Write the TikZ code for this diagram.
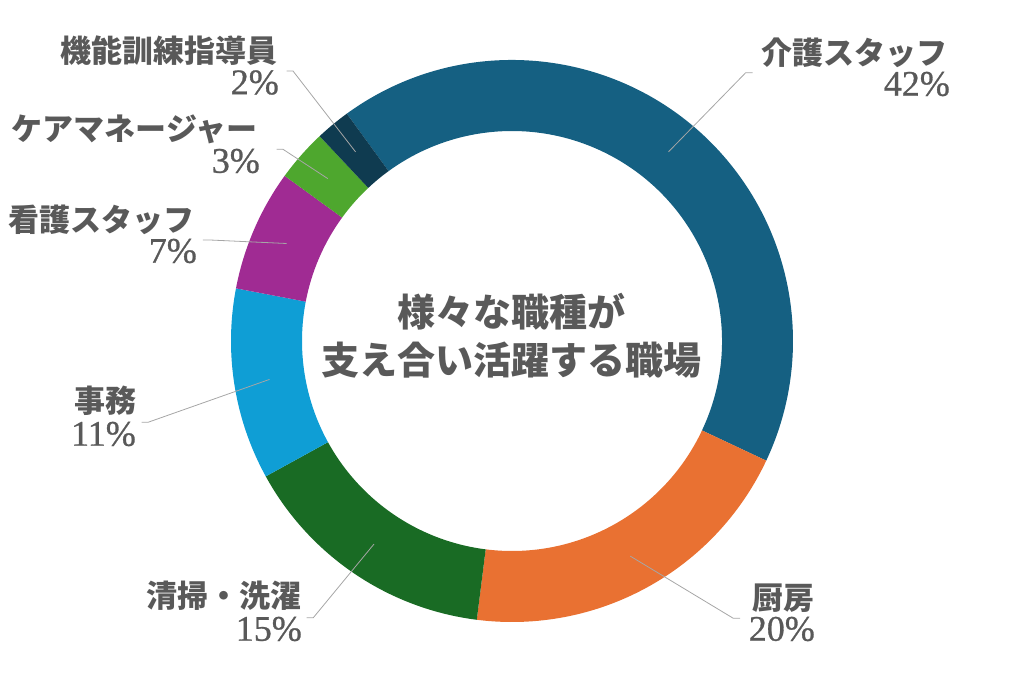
\documentclass[tikz,border=0pt]{standalone}
\usepackage{fontspec}
\newfontfamily\jpfont{Noto Sans CJK JP}
\newfontfamily\numfont{Liberation Serif}[FakeBold=0.8]
\definecolor{txtgray}{HTML}{595959}
\definecolor{leadgray}{HTML}{A6A6A6}
\definecolor{kaigoc}{HTML}{156082}
\definecolor{chuboc}{HTML}{E97132}
\definecolor{seisoc}{HTML}{196B24}
\definecolor{jimuc}{HTML}{0F9ED5}
\definecolor{kangoc}{HTML}{A02B93}
\definecolor{caremanec}{HTML}{4EA72E}
\definecolor{kinouc}{HTML}{0F3B50}
\tikzset{
  lbl/.style={anchor=east, inner sep=0pt, text=txtgray, font=\jpfont\bfseries\fontsize{31}{31}\selectfont},
  pct/.style={anchor=east, inner sep=0pt, text=txtgray, font=\numfont\fontsize{36}{36}\selectfont},
  ctr/.style={align=center, inner sep=0pt, text=txtgray, font=\jpfont\bfseries\fontsize{38}{48}\selectfont},
  leader/.style={draw=leadgray, line width=0.8pt},
}
\begin{document}
\begin{tikzpicture}[x=1pt,y=1pt]
\useasboundingbox (-512,-341) rectangle (512,341);
\foreach \a/\b/\c in {126/-25.2/kaigoc, -25.2/-97.2/chuboc, -97.2/-151.2/seisoc, -151.2/-190.8/jimuc,
  -190.8/-216/kangoc, -216/-226.8/caremanec, -226.8/-234/kinouc}
  \fill[\c] (\a:281pt) arc[start angle=\a, end angle=\b, radius=281pt] -- (\b:210pt)
    arc[start angle=\b, end angle=\a, radius=210pt] -- cycle;
\node[ctr] (title) at (0,5) {様々な職種が\\支え合い活躍する職場};
\node[lbl] (kaigo) at (436,288) {介護スタッフ};
\node[pct] (kaigo-p) at (438,257) {42\%};
\node[lbl] (chubo) at (303,-257) {厨房};
\node[pct] (chubo-p) at (303,-288) {20\%};
\node[lbl] (seiso) at (-210,-255) {清掃・洗濯};
\node[pct] (seiso-p) at (-210,-288) {15\%};
\node[lbl] (jimu) at (-375,-60) {事務};
\node[pct] (jimu-p) at (-376,-93) {11\%};
\node[lbl] (kango) at (-317,121) {看護スタッフ};
\node[pct] (kango-p) at (-315,90) {7\%};
\node[lbl] (caremane) at (-254,212) {ケアマネージャー};
\node[pct] (caremane-p) at (-252,180) {3\%};
\node[lbl] (kinou) at (-234,290.5) {機能訓練指導員};
\node[pct] (kinou-p) at (-233,258.5) {2\%};
\coordinate (kaigo-s) at (50.4:245.5pt);
\coordinate (chubo-s) at (-61.2:245.5pt);
\coordinate (seiso-s) at (-124.2:245.5pt);
\coordinate (jimu-s) at (-171:245.5pt);
\coordinate (kango-s) at (156.6:245.5pt);
\coordinate (caremane-s) at (138.6:245.5pt);
\coordinate (kinou-s) at (129.6:245.5pt);
\coordinate (kaigo-e) at (240.7,268.3);
\coordinate (chubo-e) at (228,-277.3);
\coordinate (seiso-e) at (-205.3,-276.7);
\coordinate (jimu-e) at (-370.3,-81.3);
\coordinate (kango-e) at (-309,101);
\coordinate (caremane-e) at (-235.3,191.7);
\coordinate (kinou-e) at (-225.3,270);
\draw[leader] (kaigo-s) -- (233.7,268.3) -- (kaigo-e);
\draw[leader] (chubo-s) -- (221.3,-277.3) -- (chubo-e);
\draw[leader] (seiso-s) -- (-198.7,-276.7) -- (seiso-e);
\draw[leader] (jimu-s) -- (-364,-81.3) -- (jimu-e);
\draw[leader] (kango-s) -- (-302,101) -- (kango-e);
\draw[leader] (caremane-s) -- (-229,191.7) -- (caremane-e);
\draw[leader] (kinou-s) -- (-219,270) -- (kinou-e);
\end{tikzpicture}
\end{document}
